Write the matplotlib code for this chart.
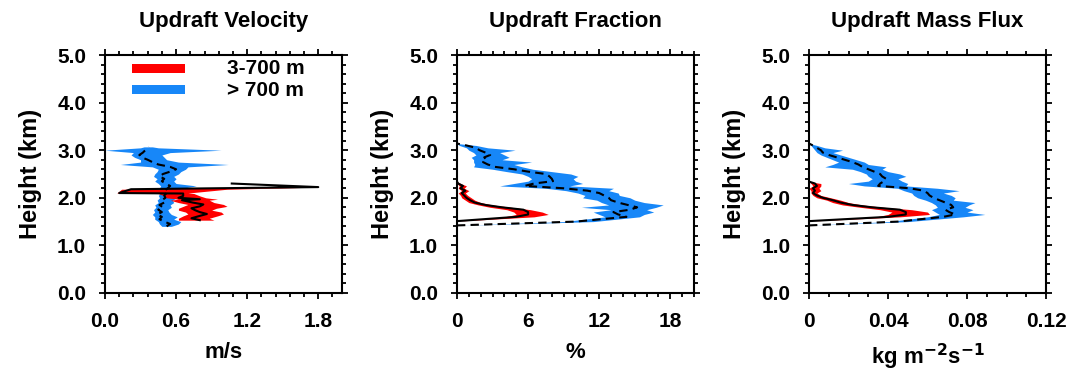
import numpy as np
import matplotlib
matplotlib.use('Agg')
import matplotlib.pyplot as plt
from matplotlib.patches import Rectangle
from matplotlib.ticker import MultipleLocator

plt.rcParams['font.family'] = ['Liberation Sans', 'DejaVu Sans']
plt.rcParams['font.weight'] = 'bold'
plt.rcParams['mathtext.default'] = 'bf'

RED = '#FF0000'
BLUE = '#1787F8'

# ---------------- Updraft Velocity (m/s) ----------------
h_vel_blue = [1.40, 1.45, 1.50, 1.55, 1.60, 1.65, 1.70, 1.75, 1.80, 1.85, 1.90, 1.95,
              2.00, 2.05, 2.10, 2.15, 2.20, 2.25, 2.30, 2.35, 2.40, 2.45, 2.50, 2.55,
              2.60, 2.65, 2.70, 2.75, 2.80, 2.85, 2.90, 2.95, 3.00, 3.05, 3.07]
vel_blue = [0.52, 0.55, 0.50, 0.46, 0.48, 0.44, 0.48, 0.45, 0.49, 0.46, 0.50, 0.48,
            0.51, 0.50, 0.52, 0.50, 0.53, 0.55, 0.51, 0.48, 0.50, 0.46, 0.49, 0.55,
            0.60, 0.55, 0.45, 0.40, 0.36, 0.31, 0.29, 0.32, 0.34, 0.36, 0.37]
vel_blue_lo = [0.48, 0.46, 0.45, 0.42, 0.42, 0.40, 0.42, 0.41, 0.43, 0.42, 0.45, 0.44,
               0.46, 0.45, 0.47, 0.45, 0.46, 0.47, 0.45, 0.42, 0.44, 0.41, 0.42, 0.44,
               0.45, 0.40, 0.13, 0.30, 0.30, 0.25, 0.22, 0.24, 0.00, 0.30, 0.33]
vel_blue_hi = [0.56, 0.62, 0.64, 0.58, 0.61, 0.56, 0.54, 0.53, 0.56, 0.55, 0.58, 0.57,
               0.60, 0.60, 0.62, 0.60, 0.65, 0.77, 0.60, 0.58, 0.60, 0.58, 0.62, 0.64,
               0.68, 0.70, 1.04, 0.62, 0.52, 0.50, 0.48, 0.55, 0.98, 0.45, 0.40]

h_vel_red = [1.53, 1.57, 1.62, 1.66, 1.70, 1.74, 1.78, 1.82, 1.86, 1.90, 1.95, 1.97,
             2.00, 2.04, 2.09, 2.10, 2.18, 2.225, 2.30]
vel_red = [0.80, 0.73, 0.80, 0.86, 0.80, 0.76, 0.73, 0.80, 0.83, 0.74, 0.65, 0.80,
           0.62, 0.66, 0.66, 0.12, 0.22, 1.80, 1.07]
vel_red_lo = [0.62, 0.62, 0.66, 0.70, 0.68, 0.62, 0.62, 0.66, 0.70, 0.62, 0.55, 0.62,
              0.52, 0.50, 0.45, 0.10, 0.14, 1.80, 1.07]
vel_red_hi = [0.92, 0.88, 0.95, 1.00, 0.98, 0.90, 0.94, 1.03, 1.00, 0.92, 0.88, 0.95,
              0.85, 0.80, 0.75, 0.70, 1.03, 1.80, 1.07]

# ---------------- Updraft Fraction (%) and Mass Flux ----------------
h_blue = [1.42, 1.50, 1.60, 1.65, 1.70, 1.75, 1.80, 1.85, 1.90, 1.95, 2.00, 2.05,
          2.10, 2.15, 2.20, 2.25, 2.30, 2.35, 2.40, 2.45, 2.50, 2.55, 2.60, 2.65,
          2.70, 2.75, 2.80, 2.85, 2.90, 2.95, 3.00, 3.05, 3.10, 3.14]
frac_blue = [0.0, 10.0, 14.3, 13.6, 13.2, 14.6, 15.2, 14.4, 13.6, 13.0, 12.8, 12.4,
             12.0, 11.0, 9.0, 5.7, 6.5, 8.1, 8.0, 7.8, 7.5, 6.0, 4.8, 3.2,
             2.6, 2.2, 2.5, 2.3, 2.8, 2.4, 1.9, 1.6, 0.8, 0.0]
frac_blue_lo = [0.0, 9.0, 12.5, 12.0, 11.5, 13.0, 10.5, 12.8, 12.2, 11.8, 10.6, 10.8,
                10.2, 9.2, 7.5, 3.6, 4.8, 6.0, 6.3, 6.0, 5.5, 4.2, 3.0, 1.4,
                1.5, 1.4, 1.4, 1.2, 1.6, 1.4, 1.0, 0.8, 0.2, 0.0]
frac_blue_hi = [0.0, 11.5, 15.4, 15.8, 16.6, 16.0, 16.8, 17.4, 15.8, 15.0, 14.6, 13.7,
                13.6, 12.8, 13.2, 9.5, 10.6, 10.0, 9.8, 10.2, 9.6, 8.0, 6.4, 5.5,
                4.8, 6.3, 3.8, 4.4, 4.0, 3.6, 4.9, 2.6, 1.6, 0.0]

flux_blue = [0.0, 0.045, 0.068, 0.074, 0.071, 0.069, 0.073, 0.072, 0.069, 0.066, 0.063, 0.061,
             0.060, 0.058, 0.051, 0.035, 0.036, 0.038, 0.039, 0.037, 0.036, 0.033, 0.030, 0.027,
             0.025, 0.022, 0.018, 0.014, 0.010, 0.007, 0.006, 0.004, 0.002, 0.0]
flux_blue_lo = [0.0, 0.040, 0.060, 0.066, 0.064, 0.062, 0.065, 0.064, 0.062, 0.059, 0.055, 0.053,
                0.052, 0.048, 0.045, 0.028, 0.020, 0.030, 0.032, 0.030, 0.029, 0.026, 0.022, 0.008,
                0.012, 0.015, 0.012, 0.009, 0.006, 0.004, 0.003, 0.002, 0.001, 0.0]
flux_blue_hi = [0.0, 0.050, 0.078, 0.089, 0.080, 0.083, 0.079, 0.081, 0.084, 0.073, 0.074, 0.072,
                0.068, 0.076, 0.065, 0.049, 0.050, 0.047, 0.045, 0.049, 0.046, 0.040, 0.037, 0.039,
                0.030, 0.028, 0.024, 0.020, 0.016, 0.012, 0.017, 0.008, 0.004, 0.0]

h_red = [1.51, 1.60, 1.65, 1.70, 1.75, 1.80, 1.85, 1.90, 1.95, 2.00, 2.05, 2.10,
         2.15, 2.20, 2.25, 2.30, 2.34]
frac_red = [0.0, 5.0, 6.0, 6.0, 5.6, 3.8, 2.4, 1.5, 1.1, 0.8, 0.6, 0.4, 0.7, 0.3, 0.5, 0.1, 0.0]
frac_red_lo = [0.0, 4.0, 5.0, 4.8, 4.2, 2.8, 1.8, 1.0, 0.7, 0.4, 0.3, 0.1, 0.4, 0.1, 0.2, 0.0, 0.0]
frac_red_hi = [0.0, 6.5, 7.7, 7.2, 6.2, 4.6, 3.0, 2.0, 1.5, 1.2, 0.9, 0.7, 1.0, 0.6, 0.8, 0.3, 0.0]

flux_red = [0.0, 0.040, 0.049, 0.049, 0.046, 0.032, 0.022, 0.016, 0.012, 0.007, 0.004, 0.002,
            0.003, 0.002, 0.004, 0.003, 0.0]
flux_red_lo = [0.0, 0.034, 0.040, 0.042, 0.036, 0.026, 0.017, 0.012, 0.009, 0.004, 0.002, 0.001,
               0.001, 0.000, 0.002, 0.001, 0.0]
flux_red_hi = [0.0, 0.046, 0.061, 0.060, 0.052, 0.038, 0.027, 0.020, 0.016, 0.011, 0.006, 0.004,
               0.006, 0.005, 0.006, 0.006, 0.0]

titles = ['Updraft Velocity', 'Updraft Fraction', 'Updraft Mass Flux']
xlabels = ['m/s', '%', 'kg m$^{-2}$s$^{-1}$']
xlims = [(0, 2.0), (0, 20), (0, 0.12)]
xmajor = [0.6, 6, 0.04]
xminor = [0.12, 1, 0.01]
xticklabels = [['0.0', '0.6', '1.2', '1.8'], ['0', '6', '12', '18'], ['0', '0.04', '0.08', '0.12']]
yticks = [0, 1, 2, 3, 4, 5]
yticklabels = ['0.0', '1.0', '2.0', '3.0', '4.0', '5.0']

panels = [
    (h_vel_red, vel_red, vel_red_lo, vel_red_hi, h_vel_blue, vel_blue, vel_blue_lo, vel_blue_hi),
    (h_red, frac_red, frac_red_lo, frac_red_hi, h_blue, frac_blue, frac_blue_lo, frac_blue_hi),
    (h_red, flux_red, flux_red_lo, flux_red_hi, h_blue, flux_blue, flux_blue_lo, flux_blue_hi),
]

fig = plt.figure(figsize=(10.7, 3.73), dpi=100, facecolor='w')
lefts = [0.0981, 0.4271, 0.7561]

for k in range(3):
    ax = fig.add_axes([lefts[k], 0.2145, 0.2215, 0.638])
    hr, mr, lr, ur, hb, mb, lb, ub = panels[k]
    ax.fill_betweenx(hb, lb, ub, color=BLUE, lw=0)
    ax.fill_betweenx(hr, lr, ur, color=RED, lw=0)
    ax.plot(mb, hb, color='k', ls=(0, (4, 2.5)), lw=1.5)
    ax.plot(mr, hr, color='k', ls='-', lw=1.5)

    ax.set_xlim(*xlims[k])
    ax.set_ylim(0, 5)
    ax.xaxis.set_minor_locator(MultipleLocator(xminor[k]))
    ticks = [xmajor[k] * i for i in range(len(xticklabels[k]))]
    ax.set_xticks(ticks)
    ax.set_xticklabels(xticklabels[k])
    ax.set_yticks(yticks)
    ax.set_yticklabels(yticklabels)
    ax.yaxis.set_minor_locator(MultipleLocator(0.2))
    ax.tick_params(which='both', direction='out', top=True, right=True, width=1.3,
                   labelsize=15)
    ax.tick_params(which='major', length=4.5)
    ax.tick_params(which='minor', length=2.6)
    ax.tick_params(axis='x', pad=9)
    ax.tick_params(axis='y', pad=9)
    for s in ax.spines.values():
        s.set_linewidth(1.5)
    ax.set_title(titles[k], fontsize=16, fontweight='bold', pad=20)
    ax.set_xlabel(xlabels[k], fontsize=16, fontweight='bold', labelpad=8)
    ax.set_ylabel('Height (km)', fontsize=17, fontweight='bold', labelpad=11)

    if k == 0:
        ax.add_patch(Rectangle((0.113, 0.926), 0.225, 0.036, transform=ax.transAxes,
                               color=RED, lw=0))
        ax.add_patch(Rectangle((0.113, 0.836), 0.225, 0.036, transform=ax.transAxes,
                               color=BLUE, lw=0))
        ax.text(0.513, 0.944, '3-700 m', transform=ax.transAxes, fontsize=15,
                va='center', ha='left')
        ax.text(0.513, 0.852, '> 700 m', transform=ax.transAxes, fontsize=15,
                va='center', ha='left')

fig.savefig('out.png', dpi=100)
